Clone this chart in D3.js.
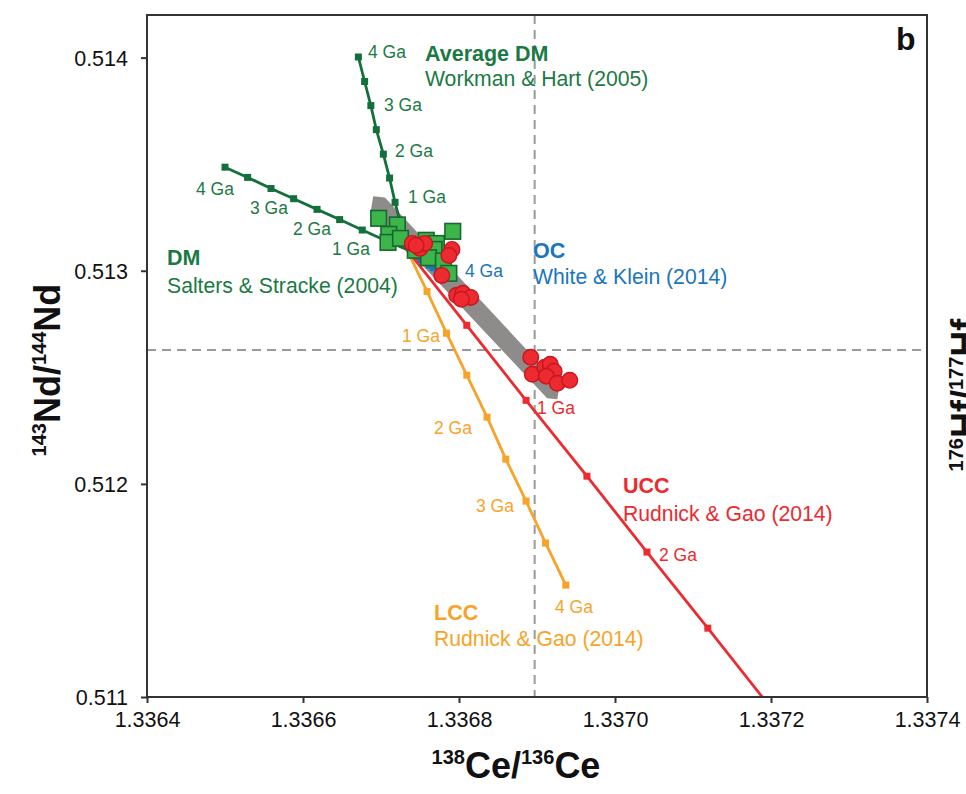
<!DOCTYPE html>
<html>
<head>
<meta charset="utf-8">
<script src="https://cdn.jsdelivr.net/npm/d3@7"></script>
<style>
  html, body { margin: 0; padding: 0; background: #fff; }
  svg { display: block; font-family: "Liberation Sans", Arial, sans-serif; }
</style>
</head>
<body>
<svg id="chart" width="966" height="794"></svg>
<script>
// ---------------- DATA ----------------
const xTicks = [1.3364, 1.3366, 1.3368, 1.3370, 1.3372, 1.3374];
const yTicks = [0.511, 0.512, 0.513, 0.514];
const xDomain = [1.3364, 1.3374];
const yDomain = [0.511, 0.5142];

// reference lines (CHUR)
const chondriteCe = 1.336897;
const chondriteNd = 0.512628;

// model evolution lines, ages in Ga
const ages = [0, 0.5, 1, 1.5, 2, 2.5, 3, 3.5, 4];

const avgDMx = [1.336733, 1.336726, 1.336718, 1.336711, 1.336703, 1.336694, 1.336687, 1.336679, 1.336671];
const avgDMy = [0.513100, 0.513208, 0.513321, 0.513435, 0.513547, 0.513662, 0.513775, 0.513888, 0.514003];

const dmSSx = [1.336733, 1.336705, 1.336676, 1.336647, 1.336618, 1.336588, 1.336559, 1.336529, 1.336500];
const dmSSy = [0.513100, 0.513143, 0.513191, 0.513240, 0.513288, 0.513338, 0.513386, 0.513438, 0.513486];

const ocX = [1.336733, 1.336738, 1.336743, 1.336748, 1.336752, 1.336757, 1.336762, 1.336767, 1.336772];
const ocY = [0.513100, 0.513088, 0.513076, 0.513063, 0.513051, 0.513039, 0.513026, 0.513014, 0.513002];

const uccX = [1.336733, 1.336810, 1.336886, 1.336964, 1.337041, 1.337119, 1.337196, 1.337274, 1.337351];
const uccY = [0.513100, 0.512744, 0.512392, 0.512036, 0.511680, 0.511323, 0.510967, 0.510611, 0.510255];

const lccX = [1.336733, 1.336759, 1.336784, 1.336810, 1.336836, 1.336860, 1.336886, 1.336911, 1.336937];
const lccY = [0.513100, 0.512903, 0.512707, 0.512510, 0.512313, 0.512116, 0.511919, 0.511722, 0.511525];

// grey field (data trend)
const bandX = [1.336690, 1.336705, 1.336929, 1.336926, 1.336913, 1.336687];
const bandY = [0.513349, 0.513344, 0.512463, 0.512397, 0.512402, 0.513283];

// samples: green squares
const sqX = [1.336697, 1.336721, 1.336710, 1.336709, 1.336725, 1.336744, 1.336758, 1.336771, 1.336792, 1.336768, 1.336761, 1.336780, 1.336787];
const sqY = [0.513246, 0.513215, 0.513171, 0.513133, 0.513152, 0.513096, 0.513143, 0.513128, 0.513185, 0.513100, 0.513061, 0.513046, 0.512988];

// samples: red circles
const ciX = [1.336740, 1.336750, 1.336756, 1.336745, 1.336791, 1.336787, 1.336778, 1.336797, 1.336805, 1.336815, 1.336803,
             1.336892, 1.336894, 1.336910, 1.336917, 1.336922, 1.336912, 1.336926, 1.336942];
const ciY = [0.513128, 0.513105, 0.513128, 0.513119, 0.513100, 0.513072, 0.512978, 0.512885, 0.512894, 0.512875, 0.512866,
             0.512594, 0.512514, 0.512547, 0.512561, 0.512528, 0.512505, 0.512472, 0.512486];

// ---------------- LAYOUT ----------------
const W = 966, H = 794;
const L = 147, R = 927, T = 15, B = 697;

const C = {
  green: "#14703b", greenText: "#1b7a43", sqFill: "#3cb54b", sqStroke: "#17692f",
  red: "#ec2a30", redStroke: "#c8161d", orange: "#f7a329", blue: "#1b75bc",
  band: "#8e8b8b", dash: "#9a9a9a", axis: "#333"
};

const svg = d3.select("#chart");
const x = d3.scaleLinear().domain(xDomain).range([L, R]);
const y = d3.scaleLinear().domain(yDomain).range([B, T]);

svg.append("defs").append("clipPath").attr("id", "plotclip")
  .append("rect").attr("x", L).attr("y", T).attr("width", R - L).attr("height", B - T);

const plot = svg.append("g").attr("clip-path", "url(#plotclip)");

// dashed reference lines
plot.append("line").attr("x1", x(chondriteCe)).attr("x2", x(chondriteCe)).attr("y1", T).attr("y2", B)
  .attr("stroke", C.dash).attr("stroke-width", 2).attr("stroke-dasharray", "9,6");
plot.append("line").attr("x1", L).attr("x2", R).attr("y1", y(chondriteNd)).attr("y2", y(chondriteNd))
  .attr("stroke", C.dash).attr("stroke-width", 2).attr("stroke-dasharray", "9,6");

// grey band
plot.append("path")
  .attr("d", d3.line()(bandX.map((v, i) => [x(v), y(bandY[i])])) + "Z")
  .attr("fill", C.band).attr("stroke", "none");

// model lines
const models = [
  { xs: ocX, ys: ocY, color: C.blue },
  { xs: lccX, ys: lccY, color: C.orange },
  { xs: uccX, ys: uccY, color: C.red },
  { xs: dmSSx, ys: dmSSy, color: C.green },
  { xs: avgDMx, ys: avgDMy, color: C.green }
];
const lineGen = d3.line().x(d => x(d[0])).y(d => y(d[1]));
models.forEach(m => {
  const pts = m.xs.map((v, i) => [v, m.ys[i], ages[i]]);
  plot.append("path").datum(pts).attr("d", lineGen)
    .attr("fill", "none").attr("stroke", m.color).attr("stroke-width", 2.8);
  plot.selectAll(null).data(pts.filter(p => p[2] > 0)).enter().append("rect")
    .attr("x", d => x(d[0]) - 3.5).attr("y", d => y(d[1]) - 3.5)
    .attr("width", 7).attr("height", 7).attr("fill", m.color);
});

// green squares
plot.selectAll(null).data(sqX.map((v, i) => [v, sqY[i]])).enter().append("rect")
  .attr("x", d => x(d[0]) - 7.8).attr("y", d => y(d[1]) - 7.8)
  .attr("width", 15.6).attr("height", 15.6)
  .attr("fill", C.sqFill).attr("stroke", C.sqStroke).attr("stroke-width", 1.6);

// red circles
plot.selectAll(null).data(ciX.map((v, i) => [v, ciY[i]])).enter().append("circle")
  .attr("cx", d => x(d[0])).attr("cy", d => y(d[1])).attr("r", 7.8)
  .attr("fill", C.red).attr("stroke", C.redStroke).attr("stroke-width", 1.4);

// frame
svg.append("rect").attr("x", L).attr("y", T).attr("width", R - L).attr("height", B - T)
  .attr("fill", "none").attr("stroke", C.axis).attr("stroke-width", 2);

// axes
const xAxis = svg.append("g").attr("transform", `translate(0,${B})`)
  .call(d3.axisBottom(x).tickValues(xTicks).tickFormat(d3.format(".4f")).tickSize(6).tickSizeOuter(0));
const yAxis = svg.append("g").attr("transform", `translate(${L},0)`)
  .call(d3.axisLeft(y).tickValues(yTicks).tickFormat(d3.format(".3f")).tickSize(6).tickSizeOuter(0));
[xAxis, yAxis].forEach(a => {
  a.select(".domain").remove();
  a.selectAll(".tick line").attr("stroke", C.axis).attr("stroke-width", 2);
  a.selectAll(".tick text").attr("fill", "#111").attr("font-size", 21.5)
    .attr("font-family", "Liberation Sans, Arial, sans-serif");
});
xAxis.selectAll(".tick text").attr("dy", null).attr("y", 30);
yAxis.selectAll(".tick text").attr("x", -19).attr("dy", "0.35em");

// axis titles
const xt = svg.append("text").attr("x", 516).attr("y", 778).attr("text-anchor", "middle")
  .attr("font-weight", "bold").attr("font-size", 36).attr("fill", "#111");
xt.append("tspan").attr("font-size", 20).attr("dy", -14).text("138");
xt.append("tspan").attr("dy", 14).text("Ce/");
xt.append("tspan").attr("font-size", 20).attr("dy", -14).text("136");
xt.append("tspan").attr("dy", 14).text("Ce");

function yTitle(cx, cy, a, b, c) {
  const t = svg.append("text").attr("transform", `translate(${cx},${cy}) rotate(-90)`)
    .attr("text-anchor", "middle").attr("font-weight", "bold").attr("font-size", 36).attr("fill", "#111");
  t.append("tspan").attr("font-size", 20).attr("dy", -14).text(a);
  t.append("tspan").attr("dy", 14).text(b + "/");
  t.append("tspan").attr("font-size", 20).attr("dy", -14).text(c);
  t.append("tspan").attr("dy", 14).text(b);
}
yTitle(60, 370, "143", "Nd", "144");
// neighbouring panel's axis title, cut by the right edge as in the reference
yTitle(977, 395, "176", "Hf", "177");

// panel letter
svg.append("text").attr("x", 896).attr("y", 50).attr("font-weight", "bold")
  .attr("font-size", 32).attr("fill", "#111").text("b");

// model name labels
const names = [
  { x: 425, y: 61, t: "Average DM", s: "Workman & Hart (2005)", c: C.greenText, gap: 25 },
  { x: 167, y: 265, t: "DM", s: "Salters & Stracke (2004)", c: C.greenText, gap: 28 },
  { x: 533, y: 258, t: "OC", s: "White & Klein (2014)", c: C.blue, gap: 26 },
  { x: 623, y: 493, t: "UCC", s: "Rudnick & Gao (2014)", c: C.red, gap: 28 },
  { x: 434, y: 620, t: "LCC", s: "Rudnick & Gao (2014)", c: C.orange, gap: 26 }
];
names.forEach(n => {
  svg.append("text").attr("x", n.x).attr("y", n.y).attr("font-weight", "bold")
    .attr("font-size", 21.5).attr("fill", n.c).text(n.t);
  svg.append("text").attr("x", n.x).attr("y", n.y + n.gap)
    .attr("font-size", 21.2).attr("fill", n.c).text(n.s);
});

// age labels
const gaLabels = [
  { x: 368, y: 58, t: "4 Ga", c: C.greenText }, { x: 384, y: 111, t: "3 Ga", c: C.greenText },
  { x: 395, y: 157, t: "2 Ga", c: C.greenText }, { x: 408, y: 203, t: "1 Ga", c: C.greenText },
  { x: 196, y: 195, t: "4 Ga", c: C.greenText }, { x: 250, y: 214, t: "3 Ga", c: C.greenText },
  { x: 293, y: 235, t: "2 Ga", c: C.greenText }, { x: 332, y: 255, t: "1 Ga", c: C.greenText },
  { x: 465, y: 277, t: "4 Ga", c: C.blue },
  { x: 402, y: 342, t: "1 Ga", c: C.orange }, { x: 434, y: 434, t: "2 Ga", c: C.orange },
  { x: 476, y: 512, t: "3 Ga", c: C.orange }, { x: 555, y: 613, t: "4 Ga", c: C.orange },
  { x: 537, y: 414, t: "1 Ga", c: C.red }, { x: 659, y: 561, t: "2 Ga", c: C.red }
];
svg.selectAll(null).data(gaLabels).enter().append("text")
  .attr("x", d => d.x).attr("y", d => d.y).attr("font-size", 17.5)
  .attr("fill", d => d.c).text(d => d.t);
</script>
</body>
</html>
